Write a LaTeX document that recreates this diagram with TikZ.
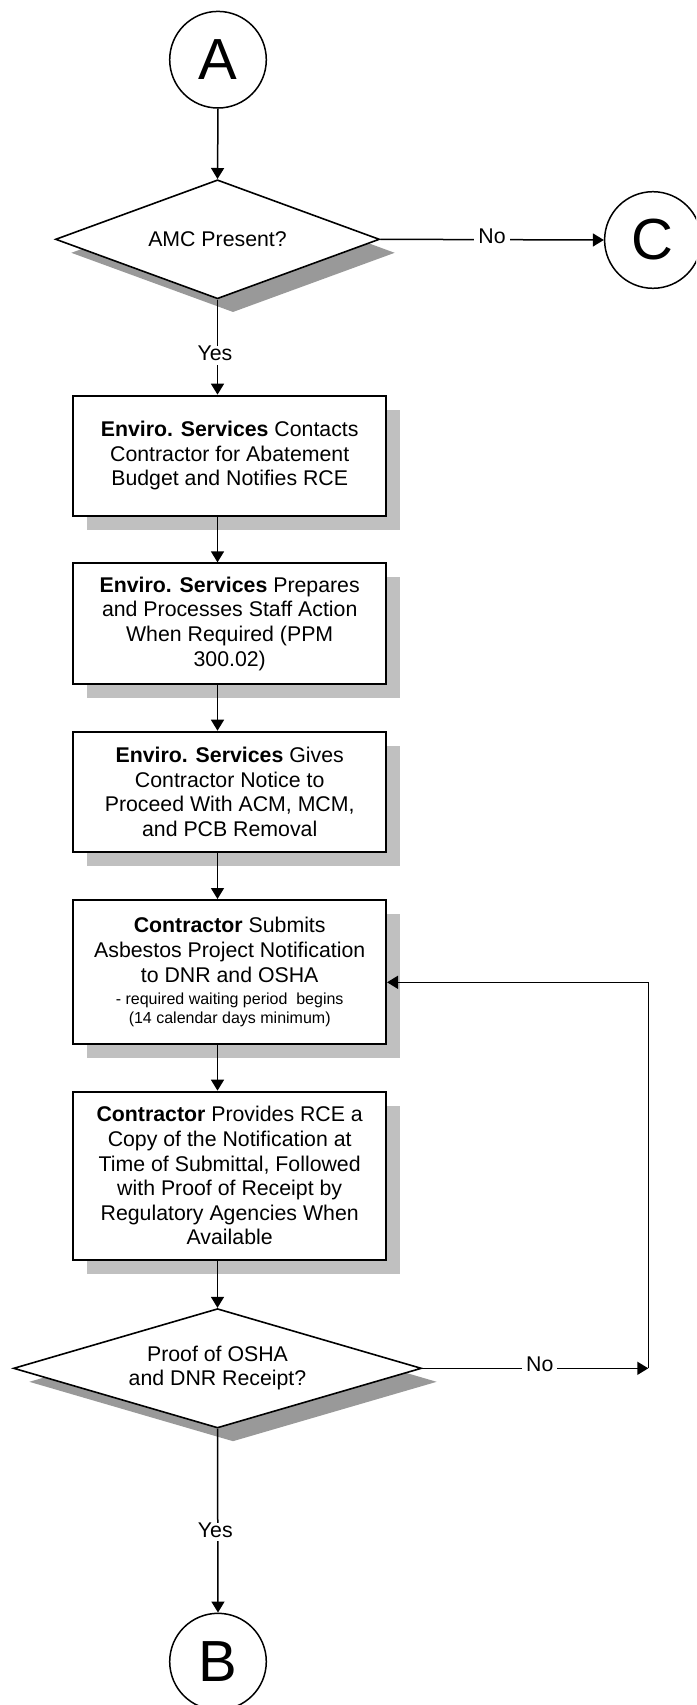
\documentclass[tikz,border=0pt]{standalone}
\usepackage{fontspec}
\setmainfont{Liberation Sans}
\usetikzlibrary{shapes.geometric,arrows.meta,shadows}
\definecolor{boxshadow}{RGB}{192,192,192}
\definecolor{diashadow}{RGB}{153,153,153}
\begin{document}
\begin{tikzpicture}[x=1pt,y=-1pt,
  every node/.style={font=\fontsize{21.3}{24.6}\selectfont},
  stepbox/.style={draw, line width=2pt, rectangle, minimum width=312.7pt, align=center,
    inner sep=0pt, fill=white,
    drop shadow={shadow xshift=14pt, shadow yshift=-14pt, opacity=1, fill=boxshadow}},
  decision/.style={draw, line width=1.6pt, diamond, inner sep=0pt, align=center, fill=white,
    drop shadow={shadow xshift=15.5pt, shadow yshift=-13.5pt, opacity=1, fill=diashadow}},
  joint/.style={draw, circle, line width=1.5pt, minimum size=96.6pt, inner sep=0pt,
    font=\fontsize{58}{60}\selectfont},
  flow/.style={line width=1.5pt, -{Triangle[length=11pt,width=13pt]}},
  lbl/.style={fill=white, inner xsep=4pt, inner ysep=0pt}
]
\useasboundingbox (0,0) rectangle (696,1705);
\clip (0,0) rectangle (696,1705);

% terminals
\node[joint] (A) at (218,59.7) {A};
\node[joint] (C) at (652.9,240) {C};
\node[joint] (B) at (218,1661.6) {B};

% decisions
\node[decision, shape aspect=2.723, minimum width=324pt, minimum height=119pt] (d1) at (217.5,239.3) {AMC Present?};
\node[decision, shape aspect=3.417, minimum width=408pt, minimum height=119.4pt,
  font=\fontsize{21.3}{24.3}\selectfont] (d2) at (217.5,1368.3)
  {Proof of OSHA\\and DNR Receipt?};

% process boxes
\node[stepbox, minimum height=120.3pt] (b1) at (229.7,455.8)
  {\textbf{Enviro. Services} Contacts\\Contractor for Abatement\\Budget and Notifies RCE};
\node[stepbox, minimum height=120.7pt] (b2) at (229.7,623.7)
  {\textbf{Enviro. Services} Prepares\\and Processes Staff Action\\When Required (PPM\\300.02)};
\node[stepbox, minimum height=120pt] (b3) at (229.7,791.7)
  {\textbf{Enviro. Services} Gives\\Contractor Notice to\\Proceed With ACM, MCM,\\and PCB Removal};
\node[stepbox, minimum height=144pt] (b4) at (229.7,972)
  {\textbf{Contractor} Submits\\Asbestos Project Notification\\to DNR and OSHA\\[-2.3pt]
   {\fontsize{16}{18.7}\selectfont - required waiting period\ \ begins}\\[-5.9pt]
   {\fontsize{16}{18.7}\selectfont (14 calendar days minimum)}};
\node[stepbox, minimum height=168.3pt] (b5) at (229.7,1175.8)
  {\textbf{Contractor} Provides RCE a\\Copy of the Notification at\\Time of Submittal, Followed\\with Proof of Receipt by\\Regulatory Agencies When\\Available};

% helper coordinates for the feedback loop
\coordinate (corner) at (648.3,1368.3);
\coordinate (fb) at (648.3,982.3);

% flow
\draw[flow] (A.south) -- (d1.north);
\draw[flow] (d1.east) -- node[lbl, yshift=3pt] (no1) {No} (C.west);
\draw[flow] (d1.south) -- node[lbl, pos=0.585, xshift=-2.5pt, text depth=4pt] (yes1) {Yes} (d1.south |- b1.north);
\draw[flow] (b1.south -| d1.south) -- (b2.north -| d1.south);
\draw[flow] (b2.south -| d1.south) -- (b3.north -| d1.south);
\draw[flow] (b3.south -| d1.south) -- (b4.north -| d1.south);
\draw[flow] (b4.south -| d1.south) -- (b5.north -| d1.south);
\draw[flow] (b5.south -| d2.north) -- (d2.north);
\draw[flow] (d2.east) -- node[lbl, pos=0.52, yshift=4pt] (no2) {No} (corner);
\draw[flow] (corner) -- (fb) -- (fb -| b4.east);
\draw[flow] (d2.south) -- node[lbl, pos=0.562, xshift=-2.5pt, text depth=4pt] (yes2) {Yes} (B.north);
\end{tikzpicture}
\end{document}
